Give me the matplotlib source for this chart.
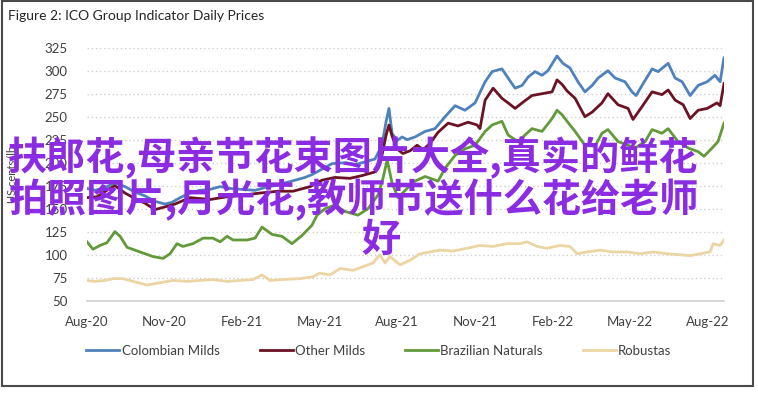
import matplotlib
matplotlib.use('Agg')
import matplotlib.pyplot as plt
from matplotlib.patches import Rectangle

plt.rcParams['font.family'] = ['Lato', 'DejaVu Sans']

# x = months since Aug-2020
tick_pos = [0, 3, 6, 9, 12, 15, 18, 21, 24]
tick_labels = ['Aug-20', 'Nov-20', 'Feb-21', 'May-21', 'Aug-21',
               'Nov-21', 'Feb-22', 'May-22', 'Aug-22']
y_ticks = [50, 75, 100, 125, 150, 175, 200, 225, 250, 275, 300, 325]

col_t = [0.00, 0.31, 0.70, 1.08, 1.47, 1.86, 2.24, 2.63, 3.02, 3.29, 3.60, 3.98,
         4.37, 4.76, 5.15, 5.53, 6.00, 6.50, 6.89, 7.39, 8.05, 8.43, 8.70, 9.09,
         9.48, 9.98, 10.37, 10.64, 11.14, 11.41, 11.57, 11.68, 11.80, 11.99, 12.19,
         12.38, 12.69, 13.08, 13.46, 13.85, 14.24, 14.62, 15.01, 15.40, 15.67, 16.05,
         16.29, 16.56, 16.83, 17.06, 17.33, 17.60, 17.83, 18.18, 18.41, 18.68, 18.99,
         19.26, 19.54, 19.77, 20.15, 20.43, 20.81, 21.08, 21.24, 21.47, 21.86, 22.09,
         22.48, 22.75, 23.02, 23.33, 23.64, 23.99, 24.29, 24.49, 24.64]
col_v = [172, 170, 173, 178, 174, 168, 164, 158, 155, 157, 162, 167,
         170, 171, 174, 172, 171, 170, 173, 176, 181, 184, 187, 193,
         199, 200, 198, 200, 204, 219, 245, 259, 232, 224, 228,
         225, 228, 234, 237, 250, 262, 257, 265, 288, 299, 302,
         292, 281, 284, 293, 299, 295, 300, 316, 308, 303, 288,
         277, 284, 292, 300, 292, 288, 277, 273, 284, 302, 299,
         308, 292, 288, 273, 284, 288, 295, 288, 314]

oth_t = [0.00, 0.39, 0.77, 1.08, 1.47, 1.86, 2.24, 2.63, 3.02, 3.40, 3.98, 4.76,
         5.42, 6.11, 6.69, 7.39, 7.97, 8.63, 9.09, 9.59, 10.17, 10.64, 11.14, 11.41,
         11.57, 11.68, 11.80, 11.99, 12.22, 12.50, 12.77, 13.00, 13.27, 13.58, 13.97,
         14.35, 14.74, 15.09, 15.20, 15.40, 15.71, 16.05, 16.29, 16.56, 16.83, 17.21,
         17.60, 17.99, 18.18, 18.38, 18.57, 18.88, 19.26, 19.54, 19.92, 20.15, 20.54,
         20.93, 21.12, 21.47, 21.86, 22.24, 22.48, 22.75, 23.06, 23.33, 23.64, 23.99,
         24.37, 24.49, 24.64]
oth_v = [162, 163, 170, 175, 167, 161, 156, 149, 152, 155, 162, 160,
         163, 165, 167, 169, 169, 174, 181, 184, 183, 186, 190, 208,
         230, 241, 229, 215, 210, 213, 219, 214, 221, 233, 243,
         240, 244, 241, 237, 268, 281, 270, 265, 259, 265, 273,
         275, 277, 290, 285, 278, 270, 250, 255, 265, 275, 263,
         259, 247, 261, 277, 274, 279, 268, 263, 248, 257, 259,
         265, 262, 286]

bra_t = [0.00, 0.23, 0.50, 0.77, 1.08, 1.28, 1.55, 2.05, 2.55, 2.94, 3.21, 3.48,
         3.71, 4.10, 4.49, 4.87, 5.15, 5.42, 5.65, 6.19, 6.50, 6.77, 7.16, 7.54,
         7.93, 8.32, 8.70, 8.90, 9.21, 9.59, 9.98, 10.48, 10.87, 11.26, 11.45,
         11.61, 11.80, 12.03, 12.38, 12.69, 13.08, 13.58, 13.85, 14.24, 14.62, 15.01,
         15.40, 15.67, 16.05, 16.29, 16.67, 16.94, 17.21, 17.60, 17.99, 18.18, 18.38,
         18.57, 18.88, 19.26, 19.65, 19.92, 20.15, 20.54, 20.93, 21.20, 21.59, 21.86,
         22.24, 22.48, 22.86, 23.25, 23.64, 23.87, 24.18, 24.41, 24.64]
bra_v = [114, 106, 110, 113, 125, 120, 108, 103, 98, 96, 101, 112,
         109, 112, 118, 118, 114, 120, 116, 116, 118, 130, 122, 120,
         112, 121, 132, 143, 150, 154, 147, 143, 150, 165, 183,
         203, 178, 162, 172, 180, 185, 180, 194, 208, 215, 219,
         234, 241, 245, 230, 223, 230, 237, 234, 248, 257, 252,
         245, 234, 219, 218, 232, 236, 223, 219, 216, 223, 236,
         232, 237, 223, 216, 212, 207, 216, 223, 243]

rob_t = [0.00, 0.31, 0.70, 1.01, 1.39, 1.78, 2.32, 2.71, 3.33, 3.87, 4.37, 4.87,
         5.42, 5.92, 6.42, 6.77, 7.08, 7.58, 8.24, 8.74, 9.01, 9.40, 9.79, 10.29,
         10.68, 11.06, 11.33, 11.53, 11.72, 12.11, 12.50, 12.88, 13.27, 13.66, 14.16,
         14.70, 15.20, 15.71, 16.25, 16.75, 17.02, 17.41, 17.79, 18.30, 18.68, 18.96,
         19.34, 19.85, 20.35, 20.89, 21.39, 21.90, 22.44, 22.94, 23.33, 23.71, 24.10,
         24.22, 24.49, 24.64]
rob_v = [72, 71, 72, 74, 74, 71, 67, 69, 72, 71, 72, 73,
         71, 72, 73, 78, 72, 73, 74, 76, 80, 78, 85, 83,
         87, 91, 100, 91, 98, 89, 94, 101, 103, 105, 104,
         107, 110, 109, 112, 112, 114, 109, 107, 110, 109, 101,
         103, 105, 103, 103, 101, 103, 101, 100, 99, 101, 103,
         112, 110, 116]

series = [
    ('Colombian Milds', col_t, col_v, '#4F81BD'),
    ('Other Milds', oth_t, oth_v, '#6B1224'),
    ('Brazilian Naturals', bra_t, bra_v, '#629A3A'),
    ('Robustas', rob_t, rob_v, '#EBD5A3'),
]

fig = plt.figure(figsize=(7.58, 3.93), dpi=100)
W, H = 758, 393
ax = fig.add_axes([87 / W, 1 - 300.7 / H, (724 - 87) / W, (300.7 - 47.7) / H])

for name, t, v, c in series:
    ax.plot(t, v, color=c, lw=2.0, label=name, solid_joinstyle='round')

ax.set_xlim(0, 24.64)
ax.set_ylim(50, 325)
ax.set_yticks(y_ticks)
ax.set_xticks(tick_pos)
ax.set_xticklabels(tick_labels)
for yv in y_ticks[1:]:
    ax.axhline(yv, color='#CFCFCF', lw=1, ls=(0, (1, 2)), zorder=0)
ax.axhline(50, color='#D0D0D0', lw=1.2, zorder=0, clip_on=False)
for s in ax.spines.values():
    s.set_visible(False)
ax.tick_params(length=0, labelsize=9.5, colors='#404040')
ax.tick_params(axis='y', pad=14)
ax.tick_params(axis='x', pad=11)

fig.text(8 / W, 1 - 16 / H, 'Figure 2: ICO Group Indicator Daily Prices',
         fontsize=10, color='#262626', va='center', ha='left')
fig.text(13 / W, 1 - 174 / H, 'US cents/lb', rotation=90, fontsize=8,
         color='#404040', va='center', ha='center')

fig.legend(loc='center', bbox_to_anchor=(0.5, 1 - 351 / H), ncol=4, frameon=False,
           fontsize=9.5, handlelength=2.5, handletextpad=0.2, columnspacing=3.0,
           labelcolor='#404040')

fig.patches.append(Rectangle((2 / W, 1 - 386 / H), 751 / W, 385 / H,
                             transform=fig.transFigure, fill=False,
                             edgecolor='#4A4A4A', lw=1.5))

cjk = ['Noto Sans CJK SC', 'DejaVu Sans']
purple = '#8B2BE2'
fig.text(8 / W, 1 - 158 / H, '扶郎花,母亲节花束图片大全,真实的鲜花', family=cjk,
         fontsize=28.2, color=purple, fontweight='bold', va='center', ha='left')
fig.text(8 / W, 1 - 200 / H, '拍照图片,月光花,教师节送什么花给老师', family=cjk,
         fontsize=28.2, color=purple, fontweight='bold', va='center', ha='left')
fig.text(361 / W, 1 - 240 / H, '好', family=cjk,
         fontsize=28.2, color=purple, fontweight='bold', va='center', ha='left')

fig.savefig('out.png', dpi=100)
